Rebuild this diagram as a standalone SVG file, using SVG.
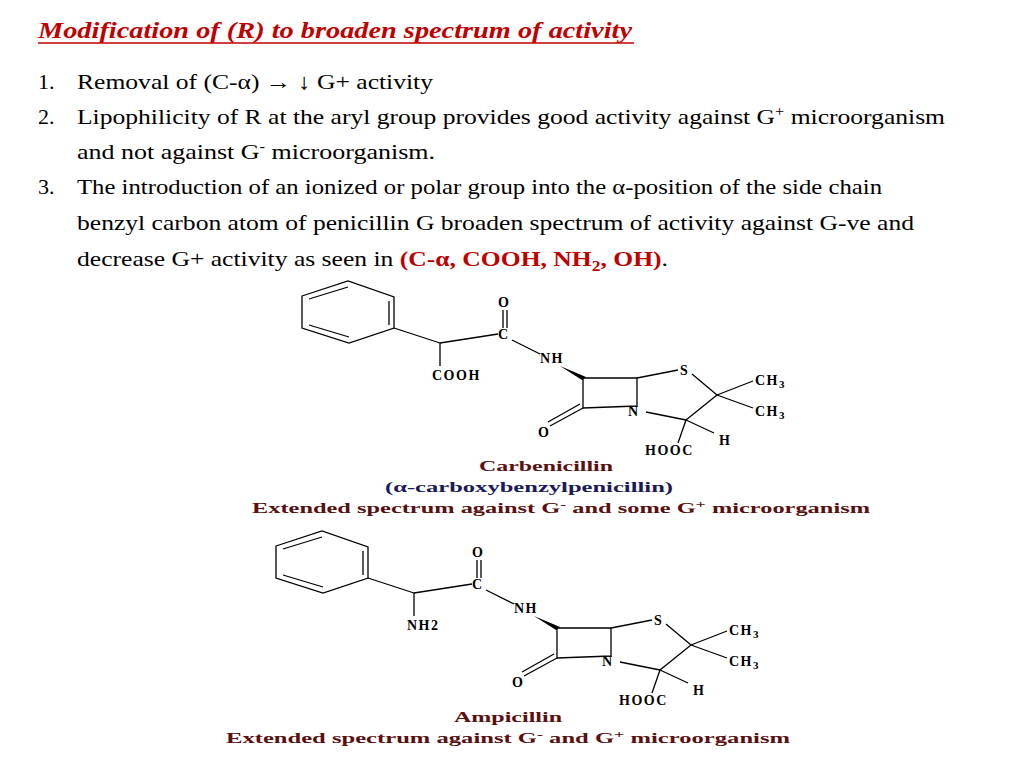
<svg xmlns="http://www.w3.org/2000/svg" width="1024" height="768" viewBox="0 0 1024 768">
<style>
.t{font-family:"Liberation Serif",serif;font-size:22px;fill:#000}
.a{font-family:"Liberation Serif",serif;font-size:14px;font-weight:bold;fill:#000;letter-spacing:1.5px}
.c{font-family:"Liberation Serif",serif;font-size:15px;font-weight:bold;text-anchor:middle}
.b{stroke:#000;stroke-width:1.3;fill:none}
</style>
<rect width="1024" height="768" fill="#fff"/>
<text x="38" y="38" font-family="Liberation Serif,serif" font-size="24" font-style="italic" font-weight="bold" fill="#c00000" textLength="594" lengthAdjust="spacingAndGlyphs">Modification of (R) to broaden spectrum of activity</text>
<line x1="38" y1="43" x2="634" y2="43" stroke="#c00000" stroke-width="1.5"/>
<text class="t" x="38" y="89">1.</text><text class="t" x="77" y="89" textLength="356" lengthAdjust="spacingAndGlyphs">Removal of (C-α) → ↓ G+ activity</text>
<text class="t" x="38" y="124">2.</text><text class="t" x="77" y="124" textLength="868" lengthAdjust="spacingAndGlyphs">Lipophilicity of R at the aryl group provides good activity against G<tspan dy="-8" font-size="14">+</tspan><tspan dy="8"> microorganism</tspan></text>
<text class="t" x="77" y="159" textLength="358" lengthAdjust="spacingAndGlyphs">and not against G<tspan dy="-8" font-size="14">-</tspan><tspan dy="8">  microorganism.</tspan></text>
<text class="t" x="38" y="194">3.</text><text class="t" x="77" y="194" textLength="805" lengthAdjust="spacingAndGlyphs">The introduction of an ionized or polar group into the α-position of the side chain</text>
<text class="t" x="77" y="230" textLength="837" lengthAdjust="spacingAndGlyphs">benzyl carbon atom of penicillin G broaden spectrum of activity against G-ve and</text>
<text class="t" x="77" y="266" textLength="591" lengthAdjust="spacingAndGlyphs">decrease G+ activity as seen in <tspan fill="#c00000" font-weight="bold">(C-α, COOH, NH<tspan dy="5" font-size="15">2</tspan><tspan dy="-5">, OH)</tspan></tspan>.</text>
<defs>
<g id="mol">
<polygon class="b" points="302,296 348,281 394,297 394,328 349,343 302,328"/>
<line class="b" x1="309" y1="325" x2="349" y2="337"/>
<line class="b" x1="389" y1="301" x2="389" y2="325"/>
<line class="b" x1="309" y1="299" x2="348" y2="287"/>
<line class="b" x1="394" y1="328" x2="440" y2="343"/>
<line class="b" x1="440" y1="343" x2="498" y2="334"/>
<line class="b" x1="503" y1="310" x2="503" y2="328"/>
<line class="b" x1="507" y1="310" x2="507" y2="328"/>
<line class="b" x1="512" y1="340" x2="540" y2="354"/>
<polygon points="560,366 586,377 582,380" fill="#000"/>
<polygon class="b" points="583,378 637,378 637,406 583,408"/>
<line class="b" x1="583" y1="408" x2="550" y2="426"/>
<line class="b" x1="580" y1="404" x2="548" y2="422"/>
<line class="b" x1="637" y1="378" x2="678" y2="370"/>
<line class="b" x1="692" y1="374" x2="717" y2="395"/>
<line class="b" x1="717" y1="395" x2="753" y2="381"/>
<line class="b" x1="717" y1="395" x2="753" y2="408"/>
<line class="b" x1="646" y1="412" x2="686" y2="420"/>
<line class="b" x1="686" y1="420" x2="717" y2="395"/>
<line class="b" x1="686" y1="420" x2="678" y2="443"/>
<line class="b" x1="686" y1="420" x2="714" y2="433"/>
<text class="a" x="498" y="307">O</text>
<text class="a" x="498" y="339">C</text>
<text class="a" x="540" y="363">NH</text>
<text class="a" x="680" y="375">S</text>
<text class="a" x="628" y="416">N</text>
<text class="a" x="538" y="437">O</text>
<text class="a" x="755" y="385">CH<tspan dy="3" font-size="11">3</tspan></text>
<text class="a" x="755" y="416">CH<tspan dy="3" font-size="11">3</tspan></text>
<text class="a" x="719" y="445">H</text>
<text class="a" x="645" y="455">HOOC</text>
</g>
</defs>
<g id="carbenicillin">
<use href="#mol"/>
<line class="b" x1="440" y1="343" x2="440" y2="366"/>
<text class="a" x="432" y="380">COOH</text>
</g>
<g id="ampicillin">
<use href="#mol" transform="translate(-26,250)"/>
<line class="b" x1="414" y1="593" x2="414" y2="616"/>
<text class="a" x="407" y="630">NH2</text>
</g>
<g id="captions">
<text class="c" x="546" y="471" fill="#5a1010" textLength="134" lengthAdjust="spacingAndGlyphs">Carbenicillin</text>
<text class="c" x="529" y="492" fill="#1a1a5a" textLength="288" lengthAdjust="spacingAndGlyphs">(α-carboxybenzylpenicillin)</text>
<text class="c" x="561" y="513" fill="#5a1010" textLength="618" lengthAdjust="spacingAndGlyphs">Extended spectrum against G<tspan dy="-5" font-size="11">-</tspan><tspan dy="5"> and some G</tspan><tspan dy="-5" font-size="11">+</tspan><tspan dy="5"> microorganism</tspan></text>
<text class="c" x="508" y="722" fill="#5a1010" textLength="108" lengthAdjust="spacingAndGlyphs">Ampicillin</text>
<text class="c" x="508" y="743" fill="#5a1010" textLength="564" lengthAdjust="spacingAndGlyphs">Extended spectrum against G<tspan dy="-5" font-size="11">-</tspan><tspan dy="5"> and  G</tspan><tspan dy="-5" font-size="11">+</tspan><tspan dy="5"> microorganism</tspan></text>
</g>
</svg>
